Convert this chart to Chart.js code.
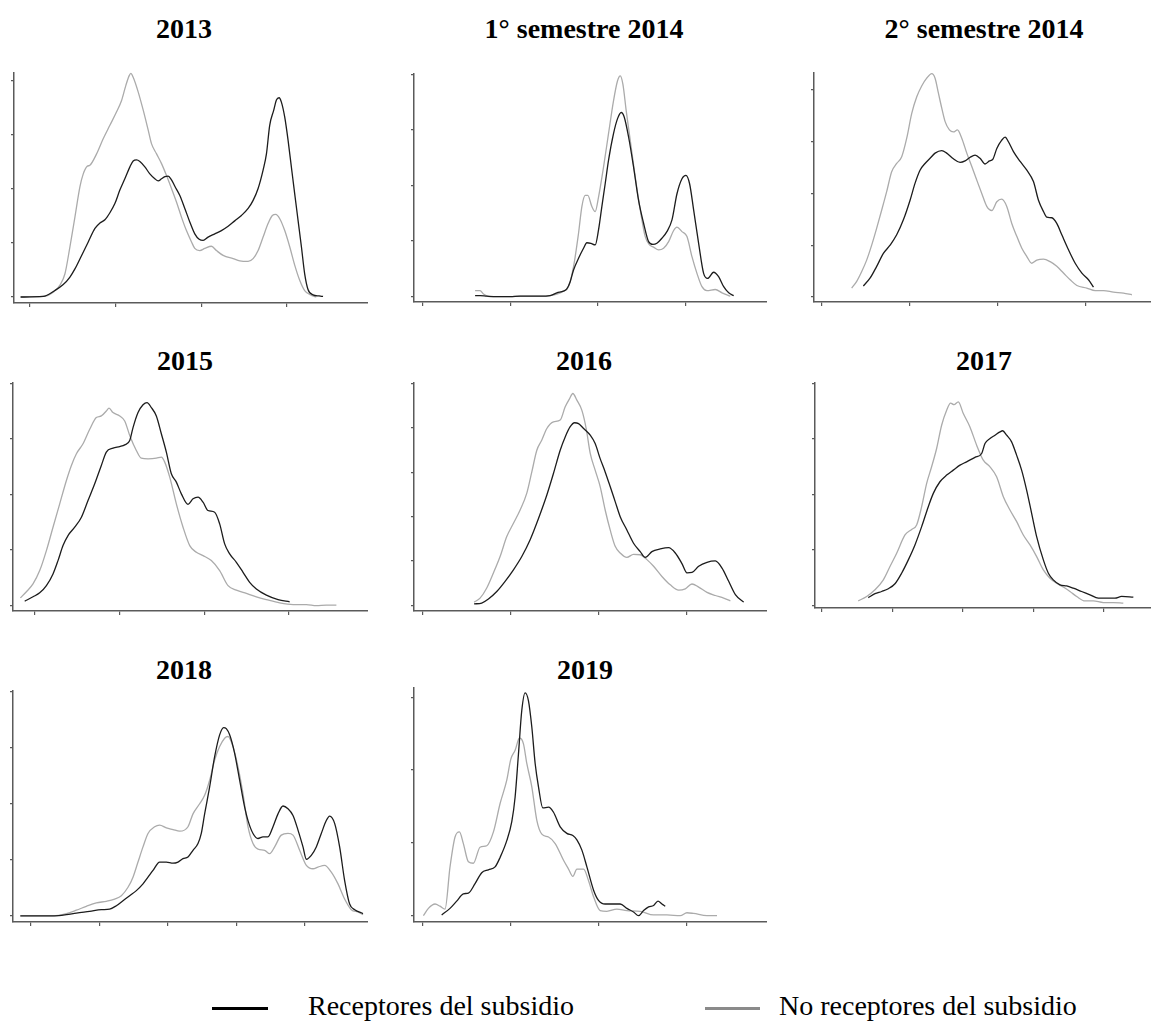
<!DOCTYPE html>
<html>
<head>
<meta charset="utf-8">
<script src="https://cdn.jsdelivr.net/npm/chart.js@4.4.1/dist/chart.umd.min.js"></script>
<style>
  html, body { margin: 0; padding: 0; background: #fff; width: 1151px; height: 1022px; overflow: hidden; }
  .title { position: absolute; font-family: "Liberation Serif", "Times New Roman", serif; font-weight: bold;
           font-size: 28px; line-height: 28px; white-space: nowrap; transform: translateX(-50%); color: #000; }
  .legend-text { position: absolute; font-family: "Liberation Serif", "Times New Roman", serif;
                 font-size: 28px; line-height: 28px; white-space: nowrap; color: #000; }
  .swatch { position: absolute; height: 3px; }
  canvas { position: absolute; }
</style>
</head>
<body>
<script>
// ---- Kernel density estimates: [x, density] pairs for each group and period ----
const rec2013 = [[-1.01,0],[1.63,0.01],[2.98,0.12],[3.95,0.23],[4.73,0.37],[5.31,0.52],[6.09,0.77],[6.86,1.02],[7.64,1.27],[8.22,1.37],[8.80,1.43],[9.38,1.56],[9.96,1.73],[10.54,1.98],[11.12,2.19],[11.71,2.41],[12.09,2.52],[12.48,2.54],[12.87,2.51],[13.45,2.41],[14.03,2.28],[14.61,2.19],[15.00,2.15],[15.39,2.19],[15.78,2.23],[16.16,2.24],[16.55,2.17],[16.94,2.05],[17.52,1.88],[18.10,1.64],[18.68,1.39],[19.26,1.17],[19.77,1.07],[20.23,1.05],[20.81,1.11],[21.59,1.17],[22.36,1.23],[23.14,1.31],[23.91,1.41],[24.69,1.51],[25.47,1.64],[26.05,1.79],[26.63,2.01],[27.21,2.35],[27.60,2.65],[27.98,3.18],[28.45,3.46],[28.76,3.65],[29.07,3.69],[29.34,3.61],[29.73,3.33],[30.12,2.90],[30.50,2.41],[30.89,1.91],[31.28,1.42],[31.67,0.93],[32.05,0.43],[32.44,0.14],[33.02,0.04],[33.72,0.02],[34.19,0.01]];
const noRec2013 = [[-1.01,0],[1.63,0.01],[2.79,0.09],[3.57,0.22],[4.15,0.43],[4.73,0.93],[5.31,1.48],[5.89,2.04],[6.28,2.28],[6.74,2.42],[7.05,2.44],[7.83,2.65],[8.60,2.93],[9.38,3.18],[10.16,3.43],[10.74,3.64],[11.24,3.92],[11.63,4.10],[11.82,4.14],[12.09,4.07],[12.67,3.80],[13.26,3.46],[13.84,3.09],[14.22,2.84],[14.81,2.65],[15.39,2.47],[15.97,2.25],[16.55,2.01],[17.13,1.76],[17.71,1.48],[18.29,1.23],[18.88,1.02],[19.26,0.90],[19.84,0.86],[20.43,0.90],[21.20,0.94],[21.78,0.86],[22.56,0.77],[23.72,0.71],[24.50,0.67],[25.47,0.66],[26.05,0.71],[26.63,0.86],[27.21,1.11],[27.79,1.36],[28.29,1.51],[28.68,1.53],[29.15,1.45],[29.73,1.23],[30.31,0.93],[30.89,0.59],[31.47,0.31],[32.05,0.12],[32.83,0.03],[33.41,0]];

const rec2014a = [[5.98,0.02],[6.55,0.02],[7.31,0.01],[8.45,0],[9.97,0],[11.12,0.01],[13.40,0.01],[14.54,0.02],[15.30,0.07],[16.06,0.10],[16.44,0.14],[16.83,0.27],[17.21,0.48],[17.78,0.69],[18.35,0.87],[18.73,0.97],[19.19,0.96],[19.68,0.93],[20.06,1.20],[20.44,1.62],[20.82,2.03],[21.20,2.45],[21.77,2.93],[22.23,3.20],[22.65,3.31],[22.99,3.23],[23.49,2.87],[24.06,2.33],[24.63,1.73],[25.20,1.32],[25.77,0.99],[26.27,0.94],[26.72,0.96],[27.29,1.05],[27.86,1.17],[28.44,1.38],[29.01,1.85],[29.58,2.12],[30.03,2.18],[30.45,2.03],[30.91,1.56],[31.48,0.96],[32.05,0.42],[32.51,0.33],[33.19,0.44],[33.76,0.36],[34.34,0.18],[34.91,0.07],[35.48,0.02]];
const noRec2014a = [[5.98,0.11],[6.55,0.11],[6.93,0.05],[7.69,0],[9.97,0],[11.12,0.01],[13.40,0.01],[14.54,0.02],[16.06,0.10],[16.63,0.18],[17.21,0.54],[17.78,1.14],[18.16,1.62],[18.54,1.82],[18.84,1.82],[19.30,1.62],[19.68,1.53],[20.06,1.79],[20.63,2.33],[21.20,2.93],[21.77,3.52],[22.23,3.88],[22.54,3.97],[22.84,3.82],[23.22,3.34],[23.68,2.81],[24.25,2.15],[24.82,1.56],[25.39,1.08],[25.88,0.93],[26.34,0.89],[26.91,0.84],[27.48,0.87],[28.06,0.99],[28.63,1.19],[29.01,1.25],[29.58,1.17],[30.15,1.08],[30.72,0.72],[31.29,0.42],[31.86,0.18],[32.43,0.11],[33.38,0.13],[34.15,0.07],[35.10,0.01]];

const rec2014b = [[4.73,0.21],[5.49,0.36],[6.25,0.59],[7.01,0.84],[7.77,1.00],[8.52,1.20],[9.28,1.49],[10.04,1.87],[10.61,2.20],[11.17,2.45],[11.74,2.58],[12.31,2.68],[12.88,2.78],[13.64,2.83],[14.20,2.78],[14.96,2.67],[15.72,2.60],[16.29,2.63],[16.86,2.70],[17.42,2.74],[17.99,2.68],[18.56,2.57],[19.05,2.63],[19.43,2.66],[19.89,2.87],[20.45,3.03],[20.83,3.09],[21.21,3.00],[21.78,2.81],[22.54,2.62],[23.30,2.45],[24.05,2.23],[24.62,1.87],[25.19,1.65],[25.57,1.54],[26.14,1.53],[26.70,1.42],[27.27,1.20],[28.03,0.91],[28.79,0.65],[29.55,0.46],[30.30,0.33],[30.87,0.19]];
const noRec2014b = [[3.41,0.17],[3.98,0.30],[4.55,0.49],[5.11,0.71],[5.68,1.00],[6.25,1.33],[6.82,1.68],[7.39,2.04],[7.95,2.42],[8.52,2.58],[9.09,2.71],[9.66,3.07],[10.23,3.55],[10.80,3.87],[11.36,4.08],[11.93,4.23],[12.50,4.32],[12.88,4.23],[13.26,3.94],[13.64,3.65],[14.02,3.39],[14.51,3.23],[14.96,3.19],[15.42,3.23],[15.91,3.07],[16.48,2.78],[17.05,2.52],[17.61,2.26],[18.18,2.00],[18.75,1.75],[19.32,1.67],[19.89,1.84],[20.45,1.89],[21.02,1.75],[21.59,1.42],[22.16,1.17],[22.73,0.94],[23.30,0.78],[23.86,0.65],[24.43,0.71],[25.19,0.73],[25.95,0.68],[26.70,0.59],[27.46,0.46],[28.22,0.33],[28.98,0.22],[30.11,0.17],[31.06,0.12],[32.01,0.12],[33.14,0.09],[34.28,0.07],[35.23,0.04]];

const rec2015 = [[-1.18,0.08],[-0.20,0.16],[0.59,0.23],[1.38,0.36],[2.16,0.57],[2.75,0.81],[3.34,1.08],[3.93,1.26],[4.72,1.41],[5.51,1.59],[6.29,1.89],[7.08,2.19],[7.86,2.52],[8.45,2.76],[9.24,2.83],[10.03,2.86],[10.62,2.89],[11.21,2.97],[11.60,3.20],[12.19,3.47],[12.78,3.61],[13.25,3.65],[13.76,3.56],[14.35,3.41],[14.94,3.09],[15.53,2.76],[16.12,2.37],[16.71,2.22],[17.30,2.01],[18.09,1.82],[18.68,1.92],[19.27,1.95],[19.86,1.86],[20.45,1.71],[21.23,1.68],[21.82,1.47],[22.41,1.11],[23.00,0.93],[23.79,0.78],[24.58,0.60],[25.36,0.42],[26.15,0.30],[27.33,0.19],[28.71,0.11],[30.08,0.07]];
const noRec2015 = [[-1.69,0.14],[-0.98,0.25],[-0.20,0.39],[0.59,0.63],[1.38,0.99],[2.16,1.41],[2.95,1.83],[3.74,2.25],[4.33,2.52],[4.92,2.73],[5.70,2.91],[6.49,3.17],[7.27,3.38],[7.86,3.41],[8.45,3.50],[8.77,3.55],[9.24,3.47],[10.03,3.41],[10.62,3.32],[11.21,3.06],[11.99,2.79],[12.58,2.65],[13.37,2.64],[14.35,2.65],[14.94,2.67],[15.34,2.58],[15.93,2.31],[16.71,1.83],[17.50,1.41],[18.29,1.08],[19.07,0.96],[19.86,0.90],[20.84,0.81],[21.82,0.63],[22.81,0.36],[23.79,0.28],[24.97,0.22],[26.15,0.16],[27.33,0.11],[28.90,0.05],[30.48,0.02],[32.05,0.02],[33.23,0],[34.41,0.01],[35.59,0.01]];

const rec2016 = [[5.85,0.03],[6.72,0.05],[7.48,0.14],[8.43,0.31],[9.38,0.54],[10.33,0.80],[11.28,1.10],[12.23,1.48],[13.18,1.96],[14.13,2.49],[14.89,2.98],[15.65,3.50],[16.22,3.80],[16.79,4.03],[17.28,4.12],[17.74,4.10],[18.31,3.99],[19.07,3.84],[19.63,3.65],[20.20,3.31],[20.77,3.01],[21.34,2.68],[21.91,2.34],[22.48,2.00],[23.24,1.70],[24.00,1.40],[24.76,1.21],[25.33,1.08],[26.09,1.21],[27.04,1.27],[27.99,1.30],[28.75,1.18],[29.51,0.94],[30.08,0.73],[30.65,0.74],[31.41,0.88],[32.36,0.97],[33.31,1.00],[34.07,0.84],[34.83,0.54],[35.59,0.24],[36.54,0.07]];
const noRec2016 = [[5.85,0.07],[6.53,0.16],[7.29,0.39],[8.05,0.73],[8.81,1.10],[9.57,1.55],[10.33,1.85],[11.09,2.15],[11.85,2.53],[12.42,3.01],[12.99,3.50],[13.56,3.73],[14.13,3.99],[14.89,4.14],[15.65,4.18],[16.22,4.48],[16.71,4.66],[17.09,4.78],[17.55,4.63],[18.12,4.40],[18.61,3.99],[19.07,3.43],[19.63,3.05],[20.20,2.68],[20.77,2.15],[21.34,1.70],[21.91,1.33],[22.48,1.18],[23.24,1.08],[24.00,1.15],[24.76,1.14],[25.52,1.03],[26.28,0.88],[27.23,0.65],[28.18,0.46],[29.13,0.34],[29.89,0.37],[30.65,0.48],[31.41,0.41],[32.36,0.29],[33.31,0.22],[34.26,0.16],[35.02,0.10]];

const rec2017 = [[6.61,0.14],[7.56,0.21],[8.50,0.25],[9.45,0.30],[10.39,0.39],[11.33,0.58],[12.28,0.82],[13.22,1.09],[14.17,1.42],[15.11,1.78],[15.82,2.02],[16.76,2.23],[17.71,2.35],[18.65,2.44],[19.60,2.53],[20.54,2.59],[21.72,2.67],[22.67,2.74],[23.14,2.92],[23.85,3.01],[24.56,3.07],[25.27,3.13],[25.64,3.15],[26.21,3.07],[26.91,2.95],[27.62,2.71],[28.33,2.44],[29.04,2.08],[29.75,1.66],[30.46,1.24],[31.41,0.82],[32.12,0.58],[32.82,0.46],[33.77,0.37],[34.71,0.35],[35.65,0.31],[36.83,0.25],[38.02,0.19],[39.20,0.13],[40.38,0.13],[41.56,0.13],[42.50,0.16],[44.16,0.15]];
const noRec2017 = [[5.19,0.08],[6.38,0.16],[7.56,0.28],[8.74,0.46],[9.68,0.70],[10.63,0.94],[11.81,1.27],[12.75,1.37],[13.46,1.45],[14.17,1.78],[14.88,2.20],[15.58,2.50],[16.29,2.83],[17.00,3.25],[17.71,3.52],[18.27,3.65],[18.75,3.62],[19.36,3.67],[20.07,3.46],[21.01,3.22],[21.96,2.89],[22.90,2.62],[23.85,2.50],[24.79,2.32],[25.74,1.96],[26.68,1.72],[27.63,1.51],[28.57,1.27],[29.52,1.09],[30.46,0.88],[31.41,0.64],[32.35,0.49],[33.30,0.40],[34.24,0.33],[35.18,0.25],[36.13,0.16],[37.31,0.08],[38.49,0.08],[39.91,0.05],[41.32,0.05],[42.74,0.04]];

const rec2018 = [[-1.51,0],[3.50,0],[5.21,0.02],[6.67,0.05],[8.61,0.08],[10.32,0.11],[11.53,0.12],[12.51,0.18],[13.48,0.27],[14.45,0.36],[15.43,0.45],[16.40,0.57],[17.13,0.69],[17.86,0.81],[18.83,0.96],[19.81,0.96],[20.78,0.94],[21.51,0.96],[22.24,1.02],[22.97,1.05],[23.70,1.17],[24.43,1.29],[24.91,1.47],[25.40,1.82],[26.13,2.30],[26.86,2.84],[27.59,3.23],[28.17,3.36],[28.56,3.34],[29.05,3.23],[29.78,2.90],[30.51,2.42],[31.24,1.94],[31.73,1.70],[32.46,1.47],[33.19,1.38],[33.92,1.41],[34.65,1.41],[35.38,1.59],[36.11,1.82],[36.84,1.96],[37.57,1.91],[38.30,1.79],[39.03,1.53],[39.76,1.23],[40.25,1.01],[40.97,1.08],[41.70,1.23],[42.43,1.47],[43.16,1.70],[43.65,1.78],[44.38,1.65],[45.11,1.23],[45.84,0.63],[46.57,0.21],[47.31,0.11],[48.52,0.04]];
const noRec2018 = [[-1.51,0],[3.26,0],[5.21,0.04],[6.67,0.10],[8.13,0.17],[9.59,0.23],[11.05,0.26],[12.26,0.30],[13.24,0.36],[14.21,0.51],[14.94,0.69],[15.67,0.96],[16.40,1.23],[17.13,1.47],[18.10,1.59],[18.83,1.62],[19.81,1.57],[20.78,1.54],[21.75,1.51],[22.97,1.59],[23.70,1.82],[24.67,2.00],[25.40,2.15],[26.13,2.42],[26.86,2.78],[27.59,3.02],[28.32,3.17],[28.81,3.20],[29.54,3.02],[30.27,2.66],[31.00,2.18],[31.73,1.59],[32.46,1.29],[33.19,1.19],[34.16,1.17],[34.89,1.11],[35.62,1.23],[36.59,1.44],[37.57,1.47],[38.30,1.44],[39.27,1.17],[40.25,0.90],[41.22,0.84],[41.95,0.87],[42.92,0.90],[43.89,0.78],[44.87,0.57],[45.84,0.30],[46.81,0.11],[47.79,0.07],[48.52,0.02]];

const rec2019 = [[2.16,0.01],[3.11,0.10],[3.87,0.20],[4.63,0.30],[5.20,0.31],[5.96,0.44],[6.72,0.59],[7.48,0.63],[8.24,0.67],[8.81,0.80],[9.57,1.03],[10.14,1.29],[10.52,1.63],[10.90,2.22],[11.28,2.82],[11.66,3.06],[12.04,2.95],[12.42,2.59],[12.80,2.09],[13.18,1.77],[13.67,1.48],[14.32,1.49],[14.89,1.42],[15.65,1.22],[16.41,1.13],[17.09,1.10],[17.55,1.04],[18.12,0.90],[18.69,0.67],[19.45,0.35],[20.01,0.21],[20.77,0.16],[21.72,0.16],[22.48,0.16],[23.24,0.10],[24.00,0.05],[24.57,0],[25.14,0.07],[25.71,0.12],[26.28,0.14],[26.78,0.20],[27.23,0.16],[27.61,0.13]];
const noRec2019 = [[0.08,0],[0.65,0.10],[1.41,0.16],[1.97,0.13],[2.54,0.09],[3.11,0.67],[3.68,1.08],[4.18,1.15],[4.63,0.99],[5.20,0.74],[5.77,0.72],[6.53,0.94],[7.29,0.96],[8.05,1.15],[8.81,1.54],[9.57,1.86],[10.03,2.15],[10.52,2.27],[11.02,2.44],[11.47,2.36],[11.85,2.09],[12.42,1.77],[12.99,1.31],[13.56,1.12],[14.32,1.08],[15.08,0.99],[16.03,0.76],[16.60,0.64],[17.09,0.54],[17.55,0.64],[18.31,0.64],[18.88,0.48],[19.45,0.26],[20.20,0.07],[20.96,0.06],[22.10,0.09],[23.24,0.07],[24.76,0.06],[26.28,0.01],[27.80,0.01],[29.32,0],[30.08,0.04],[30.84,0.03],[32.36,0],[33.50,0]];

// Tick positions (unlabelled tick marks)
const xTicks4 = [0, 10, 20, 30];
const xTicks5 = [0, 10, 20, 30, 40];
const yTicks4 = [0, 1, 2, 3, 4];
const yTicks5 = [0, 1, 2, 3, 4, 5];
const yTicks3 = [0, 1, 2, 3];

const panelTitles = ["2013", "1° semestre 2014", "2° semestre 2014", "2015", "2016", "2017", "2018", "2019"];
const legendLabels = ["Receptores del subsidio", "No receptores del subsidio"];

// ---- Styling / layout ----
const BLACK = '#1c1c1c';
const GRAY = '#ababab';
const AXIS = '#5a5a5a';
const Y_TICK = 3, X_TICK = 4;

// area = plot rectangle [left, top, right, bottom] on the page; tx/ty = title centre / top
const panels = [
  { title: panelTitles[0], rec: rec2013,  non: noRec2013,  x: [-1.78, 39.42], y: [-0.111, 4.167], xt: xTicks4, yt: yTicks4, area: [14, 72, 368, 303],   tx: 184, ty: 14.6 },
  { title: panelTitles[1], rec: rec2014a, non: noRec2014a, x: [-0.99, 39.28], y: [-0.095, 4.02],  xt: xTicks4, yt: yTicks4, area: [414, 73, 767, 302],  tx: 584, ty: 14.6 },
  { title: panelTitles[2], rec: rec2014b, non: noRec2014b, x: [-0.87, 37.4],  y: [-0.10, 4.35],   xt: xTicks4, yt: yTicks4, area: [814, 72, 1151, 302], tx: 984, ty: 14.6 },
  { title: panelTitles[3], rec: rec2015,  non: noRec2015,  x: [-2.56, 39.32], y: [-0.096, 4.02],  xt: xTicks4, yt: yTicks4, area: [13, 382, 368, 611],  tx: 185, ty: 346.6 },
  { title: panelTitles[4], rec: rec2016,  non: noRec2016,  x: [-0.99, 39.19], y: [-0.13, 5.04],   xt: xTicks4, yt: yTicks5, area: [414, 382, 767, 611], tx: 584, ty: 346.6 },
  { title: panelTitles[5], rec: rec2017,  non: noRec2017,  x: [-0.94, 46.66], y: [-0.048, 4.03],  xt: xTicks5, yt: yTicks4, area: [815, 382, 1151, 608], tx: 984, ty: 346.6 },
  { title: panelTitles[6], rec: rec2018,  non: noRec2018,  x: [-2.58, 49.25], y: [-0.11, 4.03],   xt: xTicks5, yt: yTicks4, area: [13, 690, 368, 922],  tx: 184, ty: 655.6 },
  { title: panelTitles[7], rec: rec2019,  non: noRec2019,  x: [-0.99, 39.19], y: [-0.087, 3.14],  xt: xTicks4, yt: yTicks3, area: [414, 687, 767, 922], tx: 585, ty: 655.6 }
];

function axisScale(range, ticks, tickLen) {
  return {
    type: 'linear',
    min: range[0],
    max: range[1],
    afterBuildTicks: s => { s.ticks = ticks.map(v => ({ value: v })); },
    ticks: { display: false },
    grid: { display: true, drawOnChartArea: false, drawTicks: true, tickLength: tickLen, color: AXIS, lineWidth: 1.2 },
    border: { display: true, color: AXIS, width: 1.5 }
  };
}

function drawPanel(p) {
  const left = p.area[0] - Y_TICK;
  const top = p.area[1];
  const w = p.area[2] - left;
  const h = p.area[3] + X_TICK - top;
  const cv = document.createElement('canvas');
  cv.width = w; cv.height = h;
  cv.style.left = left + 'px'; cv.style.top = top + 'px';
  cv.style.width = w + 'px'; cv.style.height = h + 'px';
  document.body.appendChild(cv);

  const t = document.createElement('div');
  t.className = 'title';
  t.textContent = p.title;
  t.style.left = p.tx + 'px';
  t.style.top = p.ty + 'px';
  document.body.appendChild(t);

  new Chart(cv, {
    type: 'line',
    data: {
      datasets: [
        { label: legendLabels[0], data: p.rec, borderColor: BLACK, borderWidth: 1.3, pointRadius: 0, cubicInterpolationMode: 'monotone', fill: false },
        { label: legendLabels[1], data: p.non, borderColor: GRAY, borderWidth: 1.3, pointRadius: 0, cubicInterpolationMode: 'monotone', fill: false }
      ]
    },
    options: {
      responsive: false,
      animation: false,
      events: [],
      devicePixelRatio: 1,
      layout: { padding: 0 },
      plugins: { legend: { display: false }, tooltip: { enabled: false }, title: { display: false } },
      scales: {
        x: axisScale(p.x, p.xt, X_TICK),
        y: axisScale(p.y, p.yt, Y_TICK)
      }
    }
  });
}

panels.forEach(drawPanel);

// ---- Shared legend ----
function legendItem(color, swLeft, swWidth, textLeft, label) {
  const sw = document.createElement('div');
  sw.className = 'swatch';
  sw.style.background = color;
  sw.style.left = swLeft + 'px';
  sw.style.width = swWidth + 'px';
  sw.style.top = '1006.5px';
  document.body.appendChild(sw);
  const tx = document.createElement('div');
  tx.className = 'legend-text';
  tx.textContent = label;
  tx.style.left = textLeft + 'px';
  tx.style.top = '991.6px';
  document.body.appendChild(tx);
}
legendItem('#000000', 212, 56, 308, legendLabels[0]);
legendItem('#8a8a8a', 705, 55, 779, legendLabels[1]);
</script>
</body>
</html>
